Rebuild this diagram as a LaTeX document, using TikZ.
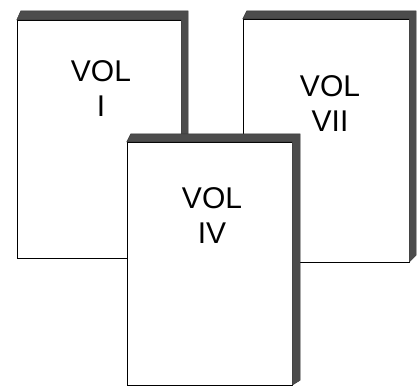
\documentclass[tikz,border=0pt]{standalone}
\usepackage{fontspec}
\setmainfont{Liberation Sans}
\usetikzlibrary{positioning,calc}

\begin{document}
\begin{tikzpicture}[
x=1pt,y=-1pt,
cover/.style={
draw,
thin,
fill=white,
rectangle,
inner sep=0pt
},
spine/.style={fill=black!70,draw=black!80,thin},
title/.style={
align=center,
inner sep=0pt,
font=\fontsize{30}{35}\selectfont
}
]
\useasboundingbox (0,0) rectangle (419,386);
% book I
\node[cover,minimum width=164pt,minimum height=238pt] (volI) at (99,139) {};
\fill[spine] (volI.north west) -- ++(4,-9) -- ($(volI.north east)+(7,-9)$) -- ($(volI.south east)+(7,-14)$) -- ($(volI.south east)+(0,-6)$) -- (volI.north east) -- cycle;
\node[title] (tI) at (101,89) {VOL\\I};
% book VII
\node[cover,minimum width=166pt,minimum height=243pt] (volVII) at (326,140.5) {};
\fill[spine] (volVII.north west) -- ++(4,-8) -- ($(volVII.north east)+(7,-8)$) -- ($(volVII.south east)+(7,-7)$) -- ($(volVII.south east)+(0,0)$) -- (volVII.north east) -- cycle;
\node[title] (tVII) at (330,104) {VOL\\VII};
% book IV
\node[cover,minimum width=165pt,minimum height=243pt] (volIV) at (209.5,263.5) {};
\fill[spine] (volIV.north west) -- ++(4,-8) -- ($(volIV.north east)+(8,-8)$) -- ($(volIV.south east)+(8,-5)$) -- ($(volIV.south east)+(0,0)$) -- (volIV.north east) -- cycle;
\node[title] (tIV) at (212,216) {VOL\\IV};
\end{tikzpicture}
\end{document}
